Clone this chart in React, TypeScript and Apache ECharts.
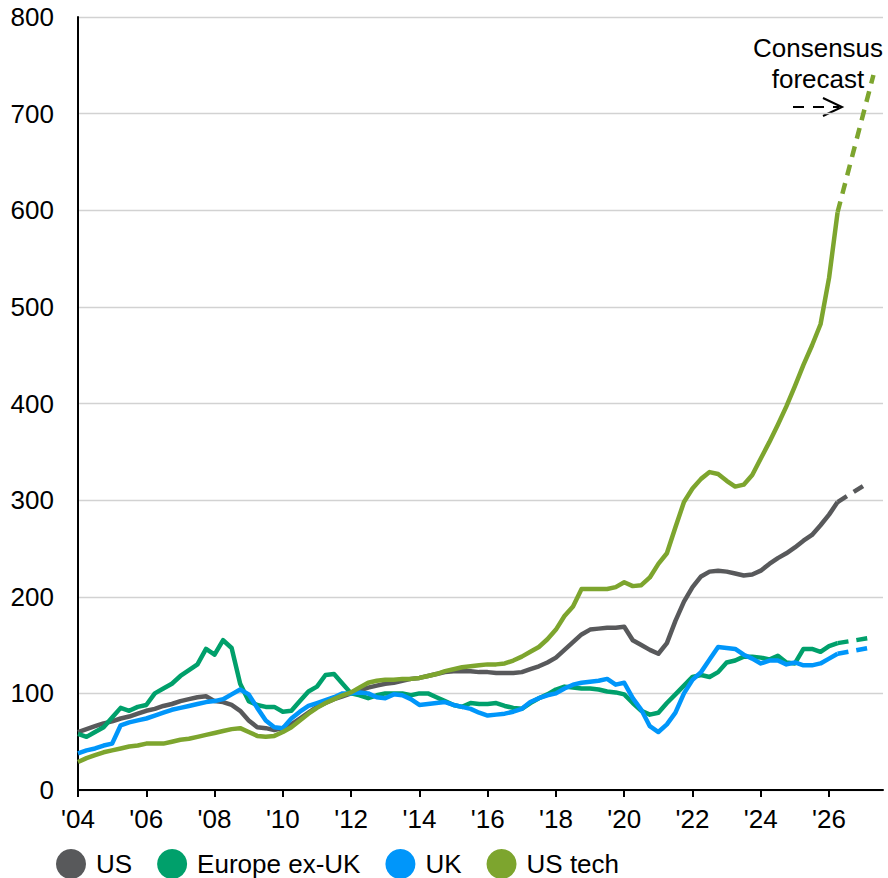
import React, { useEffect, useRef } from "react";
import * as echarts from "echarts";

// Quarterly observations starting 2004 Q1 (step = 0.25 year)
const startYear = 2004;
const step = 0.25;

const usValues = [
  60, 63, 66, 69, 71, 74, 76, 79, 82, 84, 87, 89, 92, 94, 96, 97,
  92, 91, 88, 82, 72, 65, 64, 62, 64, 68, 74, 80, 86, 90, 94, 97,
  100, 103, 106, 108, 110, 111, 113, 115, 116, 118, 120, 122, 123, 123, 123, 122,
  122, 121, 121, 121, 122, 125, 128, 132, 137, 145, 153, 161, 166, 167, 168, 168,
  169, 155, 150, 145, 141, 152, 175, 195, 210, 221, 226, 227, 226, 224, 222, 223,
  227, 234, 240, 245, 251, 258, 264, 274, 285, 298,
];

const europeValues = [
  58, 55, 60, 65, 75, 85, 82, 86, 88, 100, 105, 110, 118, 124, 130, 146,
  140, 155, 147, 110, 92, 88, 86, 86, 81, 82, 92, 102, 107, 119, 120, 110,
  100, 98, 95, 98, 100, 100, 100, 98, 100, 100, 96, 92, 88, 86, 90, 89,
  89, 90, 87, 85, 84, 90, 95, 99, 104, 107, 106, 105, 105, 104, 102, 101,
  99, 90, 82, 78, 80, 90, 99, 108, 117, 119, 117, 122, 132, 134, 138, 138,
  137, 135, 139, 132, 131, 146, 146, 143, 149, 152,
];

const ukValues = [
  38, 41, 43, 46, 48, 67, 70, 72, 74, 77, 80, 83, 85, 87, 89, 91,
  92, 94, 99, 104, 99, 85, 72, 65, 64, 74, 81, 87, 90, 93, 96, 100,
  100, 101, 100, 96, 95, 99, 98, 94, 88, 89, 90, 91, 88, 86, 84, 80,
  77, 78, 79, 81, 84, 91, 95, 98, 100, 105, 109, 111, 112, 113, 115, 109,
  111, 95, 83, 66, 60, 68, 80, 100, 114, 122, 135, 148, 147, 146, 140, 136,
  131, 134, 134, 130, 132, 129, 129, 131, 136, 141,
];

const usTechValues = [
  29, 33, 36, 39, 41, 43, 45, 46, 48, 48, 48, 50, 52, 53, 55, 57,
  59, 61, 63, 64, 60, 56, 55, 56, 60, 65, 72, 79, 85, 90, 94, 98,
  101, 106, 111, 113, 114, 114, 115, 115, 116, 118, 120, 123, 125, 127, 128, 129,
  130, 130, 131, 134, 138, 143, 148, 156, 166, 180, 190, 208, 208, 208, 208, 210,
  215, 211, 212, 220, 234, 245, 272, 298, 312, 322, 329, 327, 320, 314, 316, 326,
  343, 360, 378, 397, 418, 440, 460, 482, 530, 598,
];

// Consensus forecast segments
const forecastYears = [2026.25, 2027.3];
const usForecastYears = [2026.25, 2027.15];
const usForecast = [298, 318];
const europeForecast = [152, 158];
const ukForecast = [141, 148];
const usTechForecast = [598, 740];

const tickYears = [2004, 2006, 2008, 2010, 2012, 2014, 2016, 2018, 2020, 2022, 2024, 2026];
const tickLabels = ["'04", "'06", "'08", "'10", "'12", "'14", "'16", "'18", "'20", "'22", "'24", "'26"];

const seriesNames = ["US", "Europe ex-UK", "UK", "US tech"];
const colors = ["#58595B", "#00A06B", "#0096FA", "#7DA52E"];

const FONT = '"Liberation Sans", Arial, sans-serif';

const toPairs = (vals: number[]) => vals.map((v, i) => [startYear + i * step, v]);
const zipPairs = (xs: number[], ys: number[]) => xs.map((x, i) => [x, ys[i]]);

export default function App() {
  const ref = useRef<HTMLDivElement>(null);

  useEffect(() => {
    if (!ref.current) return;
    const chart = echarts.init(ref.current, undefined, { renderer: "svg" });

    const mainData = [usValues, europeValues, ukValues, usTechValues].map(toPairs);
    const fcData = [
      zipPairs(usForecastYears, usForecast),
      zipPairs(forecastYears, europeForecast),
      zipPairs(forecastYears, ukForecast),
      zipPairs(forecastYears, usTechForecast),
    ];

    const series: any[] = [];
    seriesNames.forEach((name, i) => {
      series.push({
        name,
        type: "line",
        data: mainData[i],
        symbol: "none",
        color: colors[i],
        lineStyle: { color: colors[i], width: 4.5, join: "round" },
        z: 2 + i,
      });
    });
    seriesNames.forEach((name, i) => {
      series.push({
        name,
        type: "line",
        data: fcData[i],
        symbol: "none",
        color: colors[i],
        lineStyle: { color: colors[i], width: 4.5, type: [11, 8] },
        z: 2 + i,
      });
    });

    chart.setOption({
      animation: false,
      backgroundColor: "#ffffff",
      textStyle: { fontFamily: FONT },
      grid: { left: 78, right: 5, top: 17, bottom: 88, containLabel: false },
      xAxis: {
        type: "value",
        min: 2004,
        max: 2027.58,
        interval: 2,
        axisLine: { show: true, lineStyle: { color: "#000", width: 2 } },
        axisTick: {
          show: true,
          length: 7,
          lineStyle: { color: "#000", width: 2 },
          customValues: tickYears,
        },
        axisLabel: {
          customValues: tickYears,
          formatter: (v: number) => tickLabels[tickYears.indexOf(Math.round(v))] ?? "",
          fontSize: 26,
          color: "#000",
          fontFamily: FONT,
          margin: 16,
        },
        splitLine: { show: false },
      },
      yAxis: {
        type: "value",
        min: 0,
        max: 800,
        interval: 100,
        axisLine: { show: true, lineStyle: { color: "#000", width: 2 } },
        axisTick: { show: false },
        axisLabel: { fontSize: 26, color: "#000", fontFamily: FONT, margin: 24 },
        splitLine: { show: true, lineStyle: { color: "#d2d2d2", width: 1.3 } },
      },
      legend: {
        data: seriesNames,
        left: 56,
        top: 849,
        icon: "circle",
        itemWidth: 30,
        itemHeight: 30,
        itemGap: 25,
        padding: 0,
        textStyle: { fontSize: 26, color: "#000", fontFamily: FONT, padding: [0, 0, 0, 5] },
      },
      graphic: [
        {
          type: "text",
          x: 818,
          y: 48,
          style: { text: "Consensus", fontSize: 26, fontFamily: FONT, fill: "#000", align: "center", verticalAlign: "middle" },
        },
        {
          type: "text",
          x: 818,
          y: 79,
          style: { text: "forecast", fontSize: 26, fontFamily: FONT, fill: "#000", align: "center", verticalAlign: "middle" },
        },
        {
          type: "line",
          shape: { x1: 793, y1: 107, x2: 839, y2: 107 },
          style: { stroke: "#000", lineWidth: 2, lineDash: [11, 9] },
        },
        {
          type: "polyline",
          shape: { points: [[823, 98], [842, 107], [823, 116]] },
          style: { stroke: "#000", lineWidth: 2, fill: null },
        },
      ],
      series,
    });

    return () => chart.dispose();
  }, []);

  return (
    <div
      ref={ref}
      style={{ position: "fixed", left: 0, top: 0, width: 888, height: 878, background: "#fff" }}
    />
  );
}
